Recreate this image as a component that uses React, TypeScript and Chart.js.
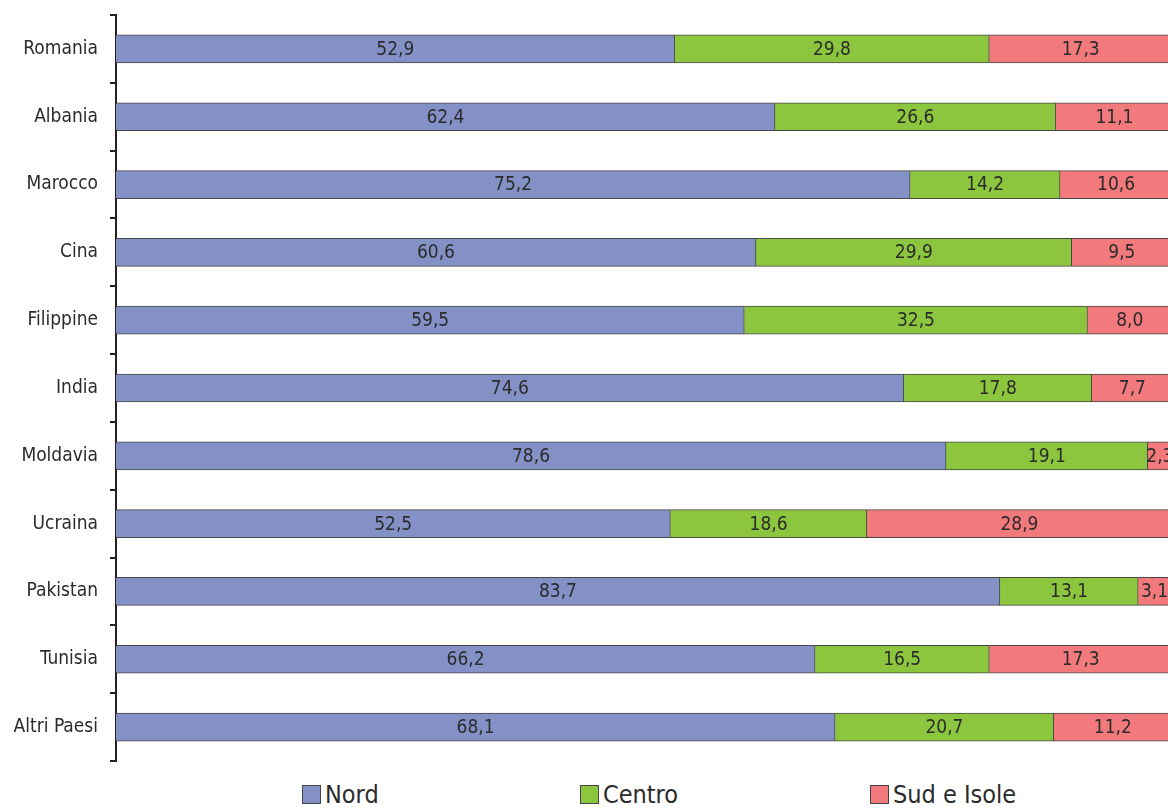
import React, { useEffect, useRef } from "react";
import { Chart, registerables } from "chart.js";

Chart.register(...registerables);

const categories = ["Romania", "Albania", "Marocco", "Cina", "Filippine", "India", "Moldavia", "Ucraina", "Pakistan", "Tunisia", "Altri Paesi"];
const nord = [52.9, 62.4, 75.2, 60.6, 59.5, 74.6, 78.6, 52.5, 83.7, 66.2, 68.1];
const centro = [29.8, 26.6, 14.2, 29.9, 32.5, 17.8, 19.1, 18.6, 13.1, 16.5, 20.7];
const sud = [17.3, 11.1, 10.6, 9.5, 8.0, 7.7, 2.3, 28.9, 3.1, 17.3, 11.2];
const seriesNames = ["Nord", "Centro", "Sud e Isole"];
const seriesColors = ["#8391C7", "#8CC63E", "#F27A7C"];

const FONT = "'DejaVu Sans Condensed', 'Liberation Sans Narrow', 'DejaVu Sans', sans-serif";

const valueLabels = {
  id: "valueLabels",
  afterDatasetsDraw(chart: any) {
    const ctx = chart.ctx;
    ctx.save();
    ctx.font = `19px ${FONT}`;
    ctx.fillStyle = "#2b2b2b";
    ctx.textAlign = "center";
    ctx.textBaseline = "middle";
    chart.data.datasets.forEach((ds: any, i: number) => {
      const meta = chart.getDatasetMeta(i);
      meta.data.forEach((bar: any, j: number) => {
        const v = ds.data[j];
        const cx = (bar.x + bar.base) / 2;
        ctx.fillText(v.toFixed(1).replace(".", ","), cx, bar.y + 1);
      });
    });
    ctx.restore();
  },
};

export default function App() {
  const ref = useRef<HTMLCanvasElement>(null);
  useEffect(() => {
    document.body.style.margin = "0";
    document.body.style.overflow = "hidden";
    document.documentElement.style.overflow = "hidden";
    const data = [nord, centro, sud];
    const chart = new Chart(ref.current!, {
      type: "bar",
      data: {
        labels: categories,
        datasets: seriesNames.map((name, i) => ({
          label: name,
          data: data[i],
          backgroundColor: seriesColors[i],
          borderColor: "rgba(40,40,40,0.85)",
          borderWidth: 1,
          barThickness: 28,
        })),
      },
      options: {
        indexAxis: "y",
        responsive: false,
        animation: false,
        layout: { padding: { left: 0, right: 8, top: 15, bottom: 9 } },
        plugins: { legend: { display: false }, tooltip: { enabled: false } },
        scales: {
          x: { stacked: true, min: 0, max: 100, display: false },
          y: {
            stacked: true,
            afterFit: (s: any) => { s.width = 116; s.paddingTop = 0; s.paddingBottom = 0; },
            border: { display: true, color: "#222", width: 2 },
            grid: { offset: true, drawOnChartArea: false, tickLength: 6, color: "#222", lineWidth: 2 },
            ticks: { color: "#2b2b2b", font: { family: FONT, size: 19 }, padding: 12 },
          },
        },
      },
      plugins: [valueLabels],
    });
    return () => chart.destroy();
  }, []);

  return (
    <div style={{ position: "relative", width: 1168, height: 808, overflow: "hidden", background: "#fff" }}>
      <canvas ref={ref} width={1180} height={770} style={{ position: "absolute", left: 0, top: 0 }} />
      {seriesNames.map((name, i) => (
        <div key={name} style={{ position: "absolute", top: 780, left: [302, 580, 870][i], display: "flex", alignItems: "center", fontFamily: FONT, fontSize: 25, color: "#2b2b2b" }}>
          <span style={{ display: "inline-block", width: 17, height: 17, background: seriesColors[i], border: "1px solid #444", marginRight: 4 }} />
          {name}
        </div>
      ))}
    </div>
  );
}
